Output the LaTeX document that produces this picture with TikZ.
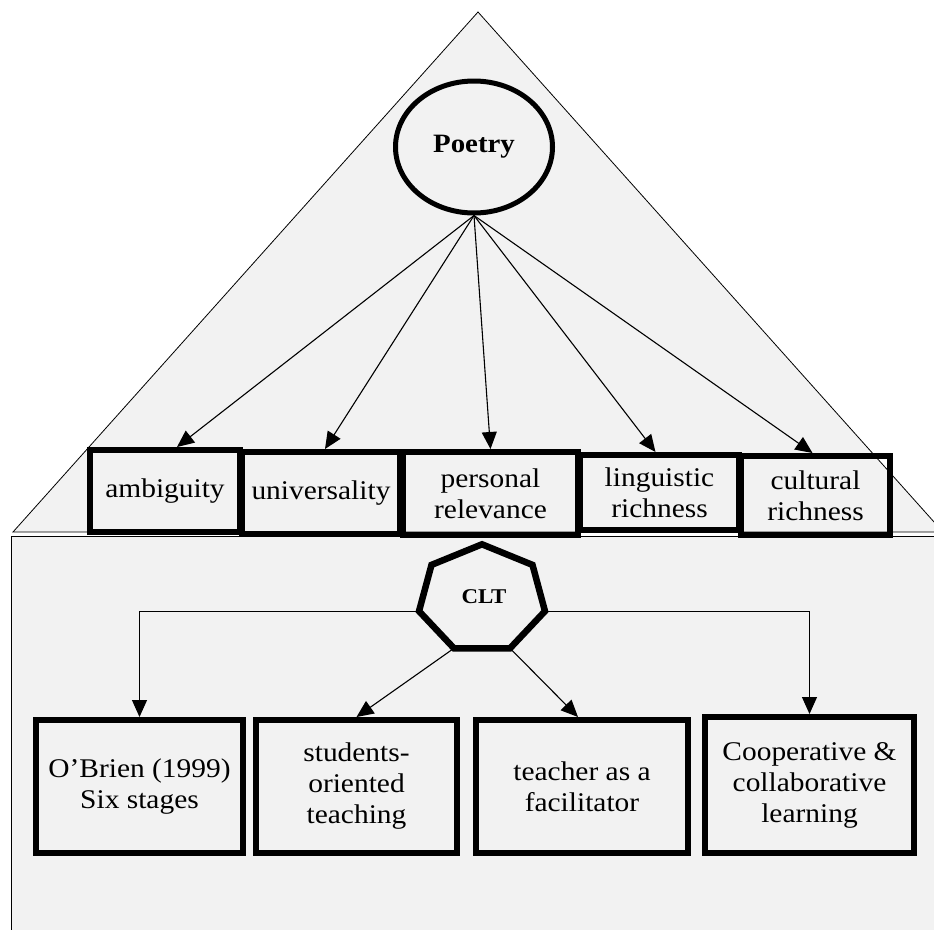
\documentclass[tikz,border=0pt]{standalone}
\usepackage{fontspec}
\setmainfont{Liberation Serif}[FakeStretch=1.09]
\usetikzlibrary{arrows.meta,shapes.geometric}
\definecolor{bgray}{HTML}{F2F2F2}

\begin{document}
\begin{tikzpicture}[x=1pt, y=-1pt,
  box/.style={draw, line width=6pt, align=center, inner sep=2pt,
    font=\fontsize{27}{31}\selectfont},
  arr/.style={line width=1.1pt, -{Triangle[length=17pt,width=15pt]}}]

  \useasboundingbox (0,0) rectangle (934,929);
  \clip (0,0) rectangle (934,929);

  % Roof (triangle) and body (rectangle) of the house
  \filldraw[fill=bgray, line width=0.8pt] (478,12) -- (13,532) -- (943,532) -- cycle;
  \filldraw[fill=bgray, line width=0.8pt] (11,536) rectangle (960,960);

  % Poetry at the top
  \node[ellipse, draw, line width=5pt, minimum width=157pt, minimum height=132pt,
    font=\fontsize{26.5}{31}\selectfont\bfseries] (poetry) at (474,147) {Poetry};

  % Features of poetry
  \node[box, minimum width=150pt, minimum height=82pt] (ambig) at (165,491) {ambiguity};
  \node[box, minimum width=158pt, minimum height=82pt] (univ) at (321,493) {universality};
  \node[box, minimum width=175pt, minimum height=83pt] (pers) at (490.5,493.5) {personal\\relevance};
  \node[box, minimum width=159pt, minimum height=75pt] (ling) at (659.5,492.5) {linguistic\\richness};
  \node[box, minimum width=149pt, minimum height=79pt] (cult) at (815.5,495.5) {cultural\\richness};

  \draw[arr] (poetry.south) -- ([xshift=12pt]ambig.north);
  \draw[arr] (poetry.south) -- ([xshift=4pt]univ.north);
  \draw[arr] (poetry.south) -- (pers.north);
  \draw[arr] (poetry.south) -- ([xshift=-4pt]ling.north);
  \draw[arr] (poetry.south) -- ([xshift=-3pt]cult.north);

  % CLT (heptagon)
  \foreach \k in {0,...,6}
    \coordinate (clt-\k) at ([shift={(482,599)}]{270+\k*360/7}:64.6 and 54.7);
  \draw[fill=bgray, line width=6.5pt] (clt-0) -- (clt-1) -- (clt-2) -- (clt-3)
    -- (clt-4) -- (clt-5) -- (clt-6) -- cycle;
  \node[font=\fontsize{21}{26}\selectfont\bfseries] (clt) at (484,597) {CLT};

  % Parts of CLT
  \node[box, minimum width=207pt, minimum height=133pt] (obrien) at (139.5,786.5) {O'Brien (1999)\\Six stages};
  \node[box, minimum width=201pt, minimum height=133pt] (students) at (356.5,786.5) {students-\\oriented\\teaching};
  \node[box, minimum width=212pt, minimum height=133pt] (teacher) at (582,786.5) {teacher as a\\facilitator};
  \node[box, minimum width=209pt, minimum height=136pt] (coop) at (809.5,785) {Cooperative \&\\collaborative\\learning};

  \draw[arr] (clt-5) -| (obrien);
  \draw[arr] (clt-4) -- (students.north);
  \draw[arr] (clt-3) -- ([xshift=-4pt]teacher.north);
  \draw[arr] (clt-2) -| (coop);
\end{tikzpicture}
\end{document}
